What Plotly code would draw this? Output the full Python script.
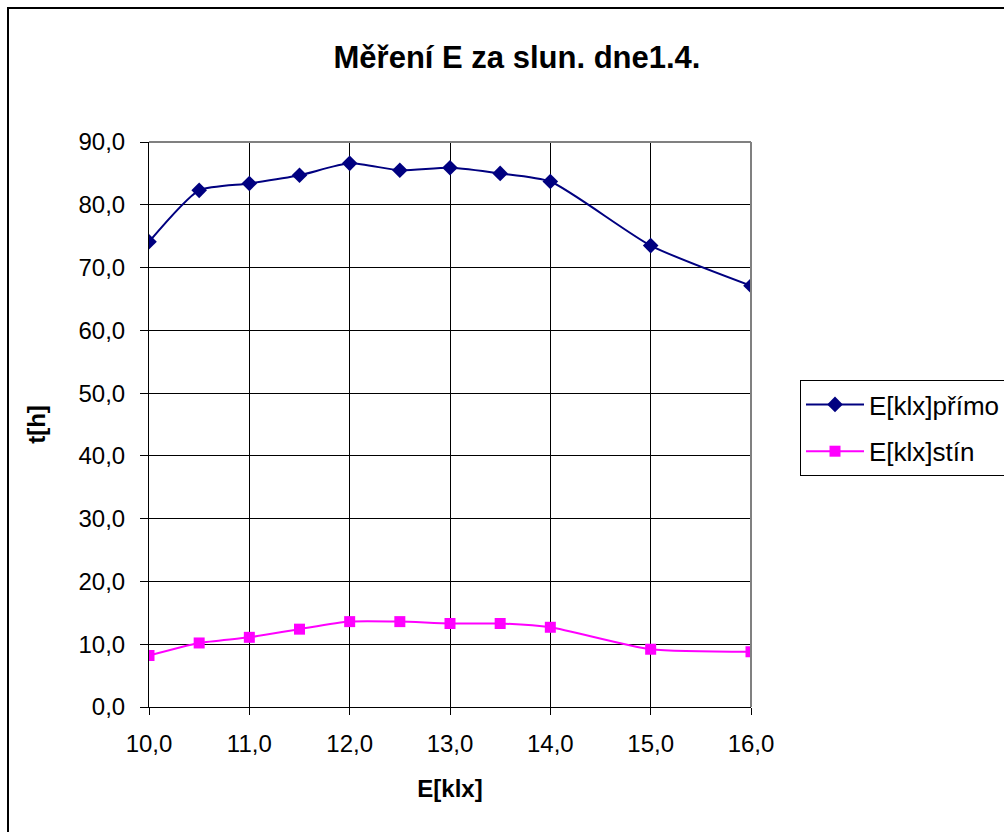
import plotly.graph_objects as go

# Measured illuminance through the day
hours = [10.0, 10.5, 11.0, 11.5, 12.0, 12.5, 13.0, 13.5, 14.0, 15.0, 16.0]
e_direct = [74.1, 82.3, 83.4, 84.7, 86.6, 85.5, 85.9, 85.0, 83.7, 73.5, 67.1]
e_shade = [8.2, 10.2, 11.1, 12.4, 13.6, 13.6, 13.3, 13.3, 12.7, 9.2, 8.8]

x_ticks = [10, 11, 12, 13, 14, 15, 16]
y_ticks = [0, 10, 20, 30, 40, 50, 60, 70, 80, 90]

FONT = "Liberation Sans, Arial, sans-serif"

fig = go.Figure()
fig.add_trace(go.Scatter(
    x=hours, y=e_direct, name="E[klx]přímo", legendgroup="a",
    mode="lines+markers", line=dict(color="#000080", width=2, shape="spline", smoothing=0.6),
    marker=dict(symbol="diamond", size=12, color="#000080"),
))
fig.add_trace(go.Scatter(
    x=hours, y=e_shade, name="E[klx]stín", legendgroup="b",
    mode="lines+markers", line=dict(color="#FF00FF", width=2, shape="spline", smoothing=0.6),
    marker=dict(symbol="square", size=11, color="#FF00FF"),
))

L, R, T, B = 149, 1004 - 751, 142, 832 - 707
W, H = 1004, 832
pw, ph = W - L - R, H - T - B

def px_x(p):
    return (p - L) / pw

def px_y(p):
    return (H - B - p) / ph

fig.update_layout(
    width=W, height=H,
    margin=dict(l=L, r=R, t=T, b=B, autoexpand=False),
    paper_bgcolor="white", plot_bgcolor="white",
    separators=",.",
    font=dict(family=FONT, size=24, color="black"),
    title=dict(
        text="<b>Měření E za slun. dne1.4.</b>",
        font=dict(family=FONT, size=31, color="black"),
        xref="paper", x=px_x(517), xanchor="center",
        yref="container", y=1 - 57 / H, yanchor="middle",
    ),
    xaxis=dict(
        range=[10, 16], tickvals=x_ticks, tickformat=".1f",
        showgrid=True, gridcolor="black", gridwidth=1,
        showline=True, linecolor="black", linewidth=1,
        ticks="outside", ticklen=7, tickcolor="black",
        zeroline=False, ticklabelstandoff=8,
        title=dict(text="<b>E[klx]</b>", font=dict(size=24), standoff=24),
    ),
    yaxis=dict(
        range=[0, 90], tickvals=y_ticks, tickformat=".1f",
        showgrid=True, gridcolor="black", gridwidth=1,
        showline=True, linecolor="black", linewidth=1,
        ticks="outside", ticklen=8, tickcolor="black",
        zeroline=False, ticklabelstandoff=10,
        title=dict(text="<b>t[h]</b>", font=dict(size=24), standoff=26),
    ),
    legend=dict(
        x=px_x(800), y=px_y(380), xanchor="left", yanchor="top",
        bordercolor="black", borderwidth=1, bgcolor="white",
        font=dict(family=FONT, size=26), traceorder="grouped", tracegroupgap=10,
        itemwidth=58,
    ),
    showlegend=True,
    hovermode=False,
    shapes=[
        # outer chart frame
        dict(type="rect", xref="paper", yref="paper",
             x0=px_x(8), x1=px_x(1012), y0=px_y(840), y1=px_y(8),
             line=dict(color="black", width=2), layer="below"),
        # grey plot-area border on top and right
        dict(type="line", xref="paper", yref="paper", x0=0, x1=1, y0=1, y1=1,
             line=dict(color="#808080", width=2), layer="above"),
        dict(type="line", xref="paper", yref="paper", x0=1, x1=1, y0=0, y1=1,
             line=dict(color="#808080", width=2), layer="above"),
    ],
)

fig.write_html("out.html")
